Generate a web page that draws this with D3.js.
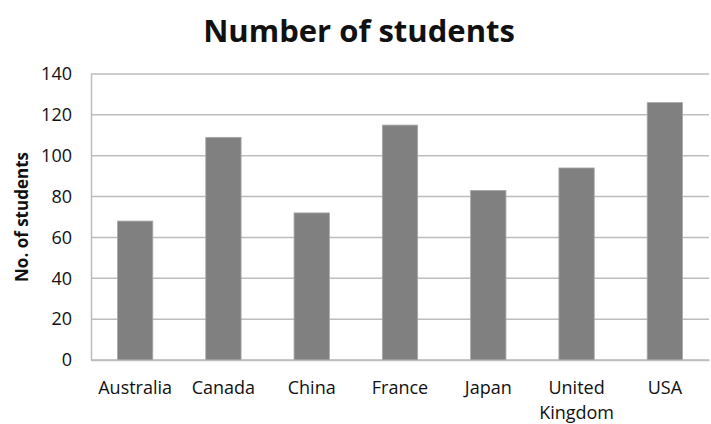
<!DOCTYPE html>
<html>
<head>
<meta charset="utf-8">
<script src="https://cdn.jsdelivr.net/npm/d3@7"></script>
<style>
  html, body { margin: 0; padding: 0; background: #fff; }
  svg { display: block; }
</style>
</head>
<body>
<svg id="chart" width="711" height="424"></svg>
<script>
// Number of students by country
const countries = ["Australia", "Canada", "China", "France", "Japan", "United Kingdom", "USA"];
const students = [68, 109, 72, 115, 83, 94, 126];
const yTicks = [0, 20, 40, 60, 80, 100, 120, 140];

const svg = d3.select("#chart");
const margin = { left: 91, right: 2, top: 74, bottom: 64 };
const W = 711, H = 424;
const font = "'Open Sans', 'Noto Sans', sans-serif";

const x = d3.scaleBand()
  .domain(countries)
  .range([margin.left, W - margin.right])
  .paddingInner(0.6)
  .paddingOuter(0.3);

const y = d3.scaleLinear()
  .domain([0, 140])
  .range([H - margin.bottom, margin.top]);

// horizontal gridlines
svg.append("g")
  .selectAll("line")
  .data(yTicks)
  .join("line")
  .attr("x1", margin.left)
  .attr("x2", W - margin.right)
  .attr("y1", d => y(d))
  .attr("y2", d => y(d))
  .attr("stroke", "#bdbdbd")
  .attr("stroke-width", 1.5);

// y axis
const yAxis = svg.append("g")
  .attr("transform", `translate(${margin.left},0)`)
  .call(d3.axisLeft(y).tickValues(yTicks).tickSize(0).tickPadding(19));
yAxis.select(".domain").attr("stroke", "#bdbdbd").attr("stroke-width", 1.5);
yAxis.selectAll("text")
  .attr("font-family", font)
  .attr("font-size", 18)
  .attr("fill", "#111");

// bars
svg.append("g")
  .selectAll("rect")
  .data(countries)
  .join("rect")
  .attr("x", d => x(d))
  .attr("width", x.bandwidth())
  .attr("y", (d, i) => y(students[i]))
  .attr("height", (d, i) => y(0) - y(students[i]))
  .attr("fill", "#808080")
  .attr("stroke", "#a8a8a8")
  .attr("stroke-width", 0.8);

// x axis
const xAxis = svg.append("g")
  .attr("transform", `translate(0,${y(0)})`)
  .call(d3.axisBottom(x).tickSize(0).tickPadding(21));
xAxis.select(".domain").attr("stroke", "#bdbdbd").attr("stroke-width", 1.5);
xAxis.selectAll("text")
  .attr("font-family", font)
  .attr("font-size", 18)
  .attr("fill", "#111")
  .each(function (d) {
    const t = d3.select(this);
    const words = d.split(" ");
    if (words.length > 1) {
      t.text(null);
      words.forEach((w, i) => {
        t.append("tspan")
          .attr("x", 0)
          .attr("dy", i === 0 ? "0.71em" : "1.39em")
          .text(w);
      });
      t.attr("dy", null);
    }
  });

// y axis title
svg.append("text")
  .attr("transform", `translate(28,${(y(0) + y(140)) / 2}) rotate(-90)`)
  .attr("text-anchor", "middle")
  .attr("font-family", font)
  .attr("font-weight", "bold")
  .attr("font-size", 17)
  .attr("fill", "#111")
  .text("No. of students");

// chart title
svg.append("text")
  .attr("x", 359)
  .attr("y", 42)
  .attr("text-anchor", "middle")
  .attr("font-family", font)
  .attr("font-weight", "bold")
  .attr("font-size", 31)
  .attr("fill", "#111")
  .text("Number of students");
</script>
</body>
</html>
